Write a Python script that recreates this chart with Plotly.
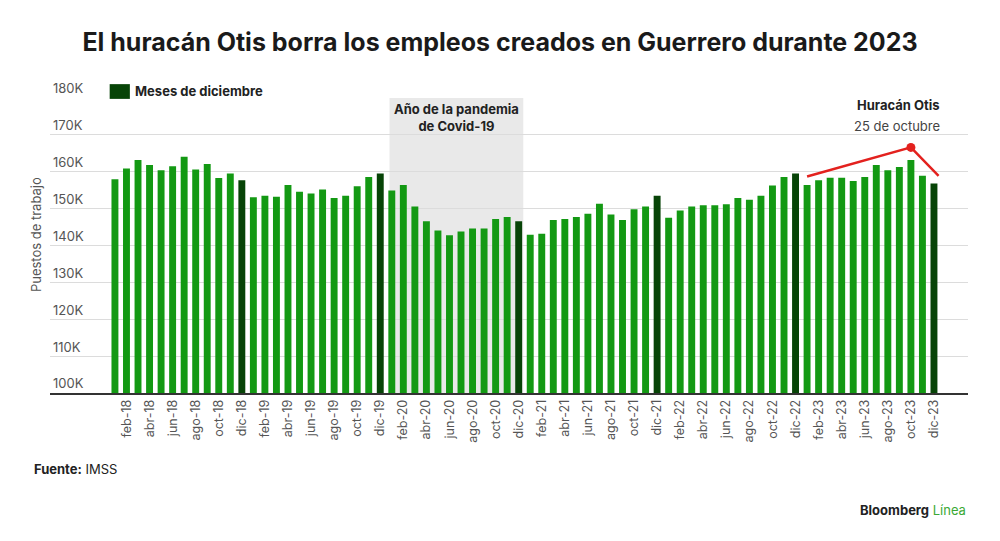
import plotly.graph_objects as go

# Puestos de trabajo en Guerrero (IMSS), miles, ene-2018 a dic-2023
meses = ["ene", "feb", "mar", "abr", "may", "jun",
         "jul", "ago", "sep", "oct", "nov", "dic"]
anios = ["18", "19", "20", "21", "22", "23"]
etiquetas = [m + "-" + a for a in anios for m in meses]

empleos = [
    158.0, 160.9, 163.2, 161.8, 160.4, 161.5, 164.1, 160.6, 162.1, 158.3, 159.5, 157.7,
    153.1, 153.5, 153.2, 156.4, 154.6, 154.1, 155.2, 152.9, 153.5, 156.1, 158.6, 159.5,
    154.9, 156.4, 150.6, 146.6, 144.1, 142.8, 143.8, 144.6, 144.6, 147.2, 147.7, 146.6,
    142.9, 143.2, 146.9, 147.2, 147.7, 148.6, 151.3, 148.4, 146.9, 149.8, 150.6, 153.5,
    147.5, 149.5, 150.6, 150.9, 150.9, 151.2, 152.9, 152.4, 153.5, 156.3, 158.6, 159.5,
    156.4, 157.7, 158.4, 158.4, 157.5, 158.6, 161.8, 160.4, 161.3, 163.2, 158.9, 156.8,
]

# linea roja del huracan Otis (posicion en meses, miles)
otis_x = [60, 69, 71.4]
otis_y = [158.7, 166.6, 158.9]

# periodo de la pandemia (indices de mes)
pandemia = [23.8, 35.4]

verde = "#139913"
verde_osc = "#074407"

x = list(range(len(empleos)))
colores = [verde_osc if e.startswith("dic") else verde for e in etiquetas]

fig = go.Figure()

fig.add_trace(go.Bar(
    x=x, y=[v * 1000 for v in empleos],
    marker=dict(color=colores, line=dict(width=0)),
    showlegend=False, hoverinfo="skip",
))

fig.add_trace(go.Scatter(
    x=otis_x, y=[v * 1000 for v in otis_y],
    mode="lines", line=dict(color="#e3211e", width=2.5),
    showlegend=False, hoverinfo="skip",
))
fig.add_trace(go.Scatter(
    x=[otis_x[1]], y=[otis_y[1] * 1000],
    mode="markers", marker=dict(color="#e3211e", size=9),
    showlegend=False, hoverinfo="skip",
))

fig.add_shape(type="rect", xref="x", yref="y",
              x0=pandemia[0], x1=pandemia[1], y0=100000, y1=180000,
              fillcolor="#e9e9e9", line=dict(width=0), layer="below")

fig.update_layout(
    width=1000, height=541,
    margin=dict(l=50, r=32, t=98, b=148),
    paper_bgcolor="white", plot_bgcolor="white",
    font=dict(family="Inter, Roboto, sans-serif", color="#555", size=13),
    bargap=0.4,
    title=dict(
        text="<b>El huracán Otis borra los empleos creados en Guerrero durante 2023</b>",
        x=0.5, xanchor="center", y=0.922, yanchor="middle",
        font=dict(size=25, color="#1a1a1a"),
    ),
)

fig.update_xaxes(
    range=[-5.63, 73.95],
    tickvals=x[1::2], ticktext=etiquetas[1::2],
    tickangle=-90, tickfont=dict(size=12.5, color="#555"),
    showgrid=False, showline=True, linecolor="#333", linewidth=1.5,
    ticks="", zeroline=False,
)
fig.update_yaxes(
    range=[100000, 180000],
    tickvals=[100000 + 10000 * i for i in range(9)],
    ticktext=[f"{100 + 10 * i}K" for i in range(9)],
    ticklabelposition="inside top", ticklabeloverflow="allow",
    tickfont=dict(size=13, color="#555"),
    showgrid=True, gridcolor="#dcdcdc", gridwidth=1,
    zeroline=False, showline=False, ticks="",
)

# leyenda
fig.add_shape(type="rect", xref="paper", yref="paper",
              x0=0.065, x1=0.087, y0=0.997, y1=1.047,
              fillcolor=verde_osc, line=dict(width=0))

fig.add_annotation(text="<b>Meses de diciembre</b>", xref="paper", yref="paper",
                   x=0.09, y=1.024, xanchor="left", yanchor="middle",
                   showarrow=False, font=dict(size=13, color="#222"))

fig.add_annotation(text="<b>Año de la pandemia<br>de Covid-19</b>", xref="x", yref="paper",
                   x=sum(pandemia) / 2, y=0.998, xanchor="center", yanchor="top",
                   showarrow=False, font=dict(size=13, color="#222"))

fig.add_annotation(text="<b>Huracán Otis</b>", xref="paper", yref="paper",
                   x=0.972, y=0.976, xanchor="right", yanchor="middle",
                   showarrow=False, font=dict(size=13, color="#222"))
fig.add_annotation(text="25 de octubre", xref="paper", yref="paper",
                   x=0.972, y=0.905, xanchor="right", yanchor="middle",
                   showarrow=False, font=dict(size=13, color="#444"))

fig.add_annotation(text="Puestos de trabajo", xref="paper", yref="paper",
                   x=-0.015, y=0.536, xanchor="center", yanchor="middle", textangle=-90,
                   showarrow=False, font=dict(size=13, color="#555"))

fig.add_annotation(text="<b>Fuente:</b> IMSS", xref="paper", yref="paper",
                   x=-0.0196, y=-0.258, xanchor="left", yanchor="middle",
                   showarrow=False, font=dict(size=13, color="#222"))

fig.add_annotation(text="<b>Bloomberg</b> <span style='color:#3aa935'>Línea</span>",
                   xref="paper", yref="paper",
                   x=1.0, y=-0.397, xanchor="right", yanchor="middle",
                   showarrow=False, font=dict(size=13, color="#222"))

fig.write_html("out.html", config={"displayModeBar": False},
               post_script="document.body.style.margin='0px';")
